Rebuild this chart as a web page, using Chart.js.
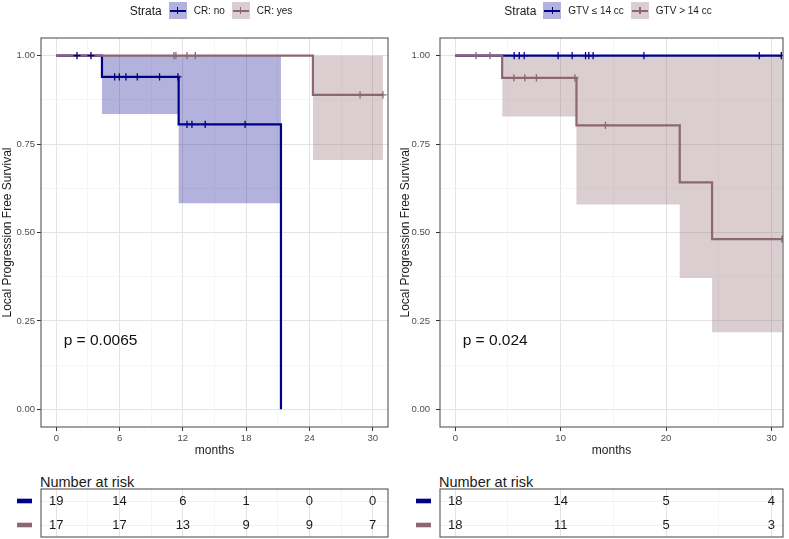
<!DOCTYPE html>
<html>
<head>
<meta charset="utf-8">
<script src="https://cdn.jsdelivr.net/npm/chart.js@4.4.1/dist/chart.umd.min.js"></script>
<style>
  body { margin: 0; background: #fff; font-family: "Liberation Sans", Arial, sans-serif; }
  #wrap { position: relative; width: 789px; height: 539px; overflow: hidden; }
  #wrap canvas, #wrap .legend, #wrap .risk-title { position: absolute; }
  .legend { top: 2px; height: 17px; display: flex; justify-content: center; align-items: center; font-size: 10px; color: #1a1a1a; }
  .legend .ttl { font-size: 12px; margin-right: 7px; }
  .legend .key { position: relative; width: 18px; height: 17px; margin-right: 7px; }
  .legend .key::before { content: ""; position: absolute; left: 1px; right: 1px; top: 7.5px; height: 2px; background: var(--c); }
  .legend .key::after { content: ""; position: absolute; left: 8.3px; top: 5px; width: 1.4px; height: 7px; background: var(--c); }
  .legend .lab { margin-right: 7px; }
  .risk-title { top: 474px; font-size: 14.5px; line-height: 17px; color: #1a1a1a; }
</style>
</head>
<body>
<div id="wrap">
  <canvas id="kmL" width="395" height="465" style="left:0;top:0"></canvas>
  <canvas id="kmR" width="394" height="465" style="left:395px;top:0"></canvas>
  <div class="legend" id="legL" style="left:41px;width:347px"></div>
  <div class="legend" id="legR" style="left:440px;width:343px"></div>
  <div class="risk-title" style="left:40px">Number at risk</div>
  <div class="risk-title" style="left:439px">Number at risk</div>
  <canvas id="riskL" width="395" height="50" style="left:0;top:488px"></canvas>
  <canvas id="riskR" width="394" height="50" style="left:395px;top:488px"></canvas>
</div>
<script>
Chart.defaults.font.family = "'Liberation Sans', Arial, sans-serif";

const NAVY = '#00008B';
const BROWN = '#8C6670';
const NAVY_BAND = 'rgba(0,0,139,0.3)';
const BROWN_BAND = 'rgba(140,102,112,0.32)';

// left panel: CR
const crNames = ['CR: no', 'CR: yes'];
const crNoTime = [0, 4.33, 11.6, 21.3];
const crNoSurv = [1, 0.94, 0.806, 0];
const crNoCensor = [1.96, 3.29, 5.53, 5.97, 6.6, 7.68, 9.79, 11.53, 12.39, 12.86, 14.12, 17.9];
const crNoBandTime = [4.33, 11.6, 21.3];
const crNoBandLow = [0.835, 0.583];
const crYesTime = [0, 24.33, 30.97];
const crYesSurv = [1, 0.889, 0.889];
const crYesCensor = [11.15, 11.34, 12.39, 13.18, 28.8, 30.97];
const crYesBandTime = [24.33, 30.97];
const crYesBandLow = [0.705];
const crRiskTimes = [0, 6, 12, 18, 24, 30];
const crRiskNo = [19, 14, 6, 1, 0, 0];
const crRiskYes = [17, 17, 13, 9, 9, 7];
const crP = 'p = 0.0065';

// right panel: GTV
const gtvNames = ['GTV \u2264 14 cc', 'GTV > 14 cc'];
const gtvLowTime = [0, 30.94];
const gtvLowSurv = [1, 1];
const gtvLowCensor = [5.59, 6.07, 6.54, 9.76, 11.09, 12.36, 12.67, 13.08, 17.9, 28.85, 30.94];
const gtvHighTime = [0, 4.45, 11.5, 21.3, 24.37, 31.0];
const gtvHighSurv = [1, 0.9375, 0.803, 0.642, 0.481, 0.481];
const gtvHighCensor = [1.96, 3.29, 5.56, 6.6, 7.7, 11.35, 14.25, 31.0];
const gtvHighBandTime = [4.45, 11.5, 21.3, 24.37, 31.0];
const gtvHighBandLow = [0.828, 0.579, 0.371, 0.218];
const gtvRiskTimes = [0, 10, 20, 30];
const gtvRiskLow = [18, 14, 5, 4];
const gtvRiskHigh = [18, 11, 5, 3];
const gtvP = 'p = 0.024';

const yTicks = [0, 0.125, 0.25, 0.375, 0.5, 0.625, 0.75, 0.875, 1];

function survAt(time, surv, t) {
  let s = surv[0];
  for (let i = 0; i < time.length; i++) if (time[i] <= t) s = surv[i];
  return s;
}

function isMajor(v, step) {
  return Math.abs(v / step - Math.round(v / step)) < 1e-9;
}

function gridOpts(step, ticks) {
  return {
    color: c => (c.tick && isMajor(c.tick.value, step)) ? '#e4e4e4' : '#f0f0f0',
    lineWidth: c => (c.tick && isMajor(c.tick.value, step)) ? 1 : 0.6,
    tickColor: c => (c.tick && isMajor(c.tick.value, step)) ? '#333' : 'rgba(0,0,0,0)',
    tickLength: ticks ? 4 : 0,
    drawTicks: ticks
  };
}

const borderPlugin = {
  id: 'panelBorder',
  afterDraw(chart) {
    const a = chart.chartArea, ctx = chart.ctx;
    ctx.save();
    ctx.strokeStyle = '#555';
    ctx.lineWidth = 1.1;
    ctx.strokeRect(a.left, a.top, a.right - a.left, a.bottom - a.top);
    ctx.restore();
  }
};

function kmChart(id, curves, xMax, xStep, pText, padRight, yTickPad, yTitlePad) {
  const datasets = [];
  curves.forEach(c => {
    if (!c.bandTime) return;
    datasets.push({ data: c.bandTime.map(t => ({x: t, y: 1})), borderWidth: 0, borderColor: 'rgba(0,0,0,0)',
      pointRadius: 0, stepped: true, fill: false, order: 9 });
    datasets.push({ data: c.bandTime.map((t, i) => ({x: t, y: c.bandLow[Math.min(i, c.bandLow.length - 1)]})),
      borderWidth: 0, borderColor: 'rgba(0,0,0,0)', pointRadius: 0, stepped: true, fill: '-1',
      backgroundColor: c.band, order: 8 });
  });
  curves.forEach((c, i) => {
    datasets.push({ data: c.time.map((t, j) => ({x: t, y: c.surv[j]})), borderColor: c.color, borderWidth: 2.2,
      pointRadius: 0, stepped: true, fill: false, order: 5 - i });
  });
  curves.forEach((c, i) => {
    datasets.push({ data: c.censor.map(t => ({x: t, y: survAt(c.time, c.surv, t)})), showLine: false,
      pointStyle: 'cross', pointRadius: 3.6, borderColor: c.color, borderWidth: 1.3, order: 2 - i });
  });
  const xTicks = [];
  for (let v = 0; v <= 30; v += xStep / 2) xTicks.push(v);

  return new Chart(document.getElementById(id), {
    type: 'line',
    data: { datasets: datasets },
    options: {
      responsive: false,
      animation: false,
      layout: { padding: { top: 38, right: padRight, bottom: 0, left: 0 } },
      plugins: { legend: { display: false }, tooltip: { enabled: false } },
      scales: {
        x: {
          type: 'linear', min: -1.45, max: xMax,
          afterBuildTicks: s => { s.ticks = xTicks.map(v => ({value: v})); },
          afterFit: s => { s.height = 38; },
          ticks: { autoSkip: false, maxRotation: 0, padding: 2, color: '#4d4d4d', font: { size: 9.5 },
            callback: v => isMajor(v, xStep) ? String(v) : '' },
          grid: gridOpts(xStep, true),
          border: { display: false },
          title: { display: true, text: 'months', color: '#1a1a1a', font: { size: 12 }, padding: { top: 0, bottom: 6.8 } }
        },
        y: {
          type: 'linear', min: -0.05, max: 1.05,
          afterBuildTicks: s => { s.ticks = yTicks.map(v => ({value: v})); },
          afterFit: s => { s.width = 41 + (yTitlePad > 2 ? 4 : 0); },
          ticks: { autoSkip: false, padding: yTickPad, color: '#4d4d4d', font: { size: 9.5 },
            callback: v => isMajor(v, 0.25) ? v.toFixed(2) : '' },
          grid: gridOpts(0.25, true),
          border: { display: false },
          title: { display: true, text: 'Local Progression Free Survival', color: '#1a1a1a', font: { size: 12 },
            padding: { top: yTitlePad, bottom: 0 } }
        }
      }
    },
    plugins: [borderPlugin, {
      id: 'pval',
      afterDatasetsDraw(chart) {
        const ctx = chart.ctx;
        ctx.save();
        ctx.font = "15.5px 'Liberation Sans', Arial, sans-serif";
        ctx.fillStyle = '#111';
        ctx.textBaseline = 'middle';
        ctx.fillText(pText, chart.scales.x.getPixelForValue(0.7), chart.scales.y.getPixelForValue(0.195));
        ctx.restore();
      }
    }]
  });
}

function riskChart(id, names, colors, times, rows, xMax, xStep, padRight, yWidth) {
  const xTicks = [];
  for (let v = 0; v <= 30; v += xStep / 2) xTicks.push(v);
  const datasets = rows.map((r, i) => ({
    data: times.map(t => ({x: t, y: names[i]})), risk: r, rowColor: colors[i],
    showLine: false, pointRadius: 0
  }));
  return new Chart(document.getElementById(id), {
    type: 'line',
    data: { datasets: datasets },
    options: {
      responsive: false,
      animation: false,
      layout: { padding: { top: 1, right: padRight, bottom: 1, left: 0 } },
      plugins: { legend: { display: false }, tooltip: { enabled: false } },
      scales: {
        x: {
          type: 'linear', min: -1.45, max: xMax,
          afterBuildTicks: s => { s.ticks = xTicks.map(v => ({value: v})); },
          afterFit: s => { s.height = 0; },
          ticks: { display: false },
          grid: gridOpts(xStep, false),
          border: { display: false }
        },
        y: {
          type: 'category', labels: names, offset: true,
          afterFit: s => { s.width = yWidth; },
          ticks: { display: false },
          grid: { offset: false, drawTicks: false, color: '#ebebeb', lineWidth: 0.8 },
          border: { display: false }
        }
      }
    },
    plugins: [borderPlugin, {
      id: 'riskText',
      afterDatasetsDraw(chart) {
        const ctx = chart.ctx;
        ctx.save();
        ctx.font = "13px 'Liberation Sans', Arial, sans-serif";
        ctx.textAlign = 'center';
        ctx.textBaseline = 'middle';
        chart.data.datasets.forEach((ds, i) => {
          const pts = chart.getDatasetMeta(i).data;
          ctx.fillStyle = '#1a1a1a';
          pts.forEach((p, j) => ctx.fillText(String(ds.risk[j]), p.x, p.y + 0.5));
          ctx.fillStyle = ds.rowColor;
          if (pts.length) ctx.fillRect(chart.chartArea.left - 24, pts[0].y - 2.3, 15, 4.6);
        });
        ctx.restore();
      }
    }]
  });
}

function buildLegend(id, names, colors, bands) {
  const el = document.getElementById(id);
  let html = '<span class="ttl">Strata</span>';
  names.forEach((n, i) => {
    html += '<span class="key" style="--c:' + colors[i] + ';background:' + bands[i] + '"></span>' +
            '<span class="lab">' + n + '</span>';
  });
  el.innerHTML = html;
}

buildLegend('legL', crNames, [NAVY, BROWN], [NAVY_BAND, BROWN_BAND]);
buildLegend('legR', gtvNames, [NAVY, BROWN], [NAVY_BAND, BROWN_BAND]);

kmChart('kmL', [
  { time: crNoTime, surv: crNoSurv, censor: crNoCensor, bandTime: crNoBandTime, bandLow: crNoBandLow, color: NAVY, band: NAVY_BAND },
  { time: crYesTime, surv: crYesSurv, censor: crYesCensor, bandTime: crYesBandTime, bandLow: crYesBandLow, color: BROWN, band: BROWN_BAND }
], 31.45, 6, crP, 7, 2, 0.3);

kmChart('kmR', [
  { time: gtvLowTime, surv: gtvLowSurv, censor: gtvLowCensor, color: NAVY, band: NAVY_BAND },
  { time: gtvHighTime, surv: gtvHighSurv, censor: gtvHighCensor, bandTime: gtvHighBandTime, bandLow: gtvHighBandLow, color: BROWN, band: BROWN_BAND }
], 31.1, 10, gtvP, 6, 6, 3.6);

riskChart('riskL', crNames, [NAVY, BROWN], crRiskTimes, [crRiskNo, crRiskYes], 31.45, 6, 7, 41);
riskChart('riskR', gtvNames, [NAVY, BROWN], gtvRiskTimes, [gtvRiskLow, gtvRiskHigh], 31.1, 10, 6, 45);
</script>
</body>
</html>
